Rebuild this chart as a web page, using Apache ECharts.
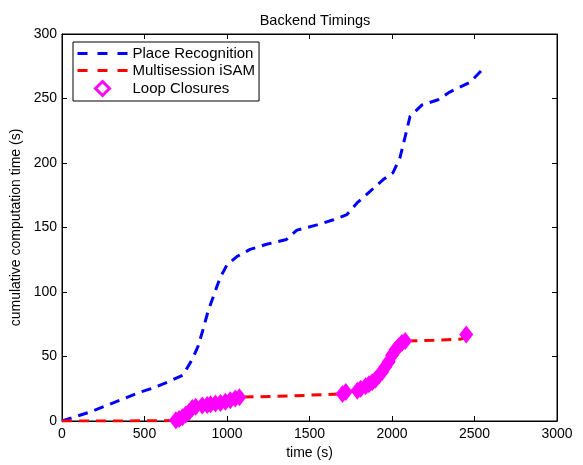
<!DOCTYPE html>
<html>
<head>
<meta charset="utf-8">
<script src="https://cdn.jsdelivr.net/npm/echarts@6/dist/echarts.min.js"></script>
<style>
  html, body { margin: 0; padding: 0; background: #fff; }
  #myChart { width: 583px; height: 465px; }
</style>
</head>
<body>
<div id="myChart"></div>
<script>
// place recognition (blue)
var placeTime = [0, 170, 290, 473, 550, 655, 733, 790, 825, 855, 885, 927, 958, 1000, 1060, 1140, 1240, 1360, 1424, 1545, 1645, 1727, 1788, 1867, 1945, 2006, 2048, 2079, 2109, 2182, 2279, 2350, 2473, 2552];
var placeValue = [0, 7, 13, 22.4, 25.5, 31, 35.5, 48, 58, 71, 85, 100, 111, 121, 127.5, 133, 137, 140.7, 148, 152, 156, 160, 169, 178, 187, 192.5, 204, 220, 236, 245, 249, 255, 262.6, 273];

// multisession iSAM (red)
var isamTime = [0, 300, 680, 690, 730, 770, 810, 880, 960, 1020, 1075, 1400, 1700, 1720, 1790, 1840, 1880, 1920, 1960, 2000, 2040, 2080, 2250, 2420, 2450];
var isamValue = [0, 0, 0.3, 0.5, 3, 7, 11, 12.5, 14, 16, 18.5, 19.5, 21, 22.5, 23.5, 27, 30, 35, 42, 51, 58, 62, 62.5, 63.5, 67];

// loop closures (magenta)
var loopTime = [690, 710, 730, 750, 770, 790, 810, 850, 880, 900, 930, 960, 990, 1020, 1050, 1075, 1700, 1720, 1790, 1810, 1840, 1860, 1880, 1900, 1920, 1940, 1960, 1980, 2000, 2020, 2040, 2060, 2080, 2450];
var loopValue = [0.5, 1.5, 3, 5, 7, 10, 11, 12, 12.5, 13, 13.5, 14, 15, 16, 17.5, 18.5, 21, 22.5, 23.5, 25, 27, 28.5, 30, 32, 35, 38, 42, 46, 51, 55, 58, 60.5, 62, 67];

var xTicks = [0, 3000, 500];
var yTicks = [0, 300, 50];

function pairs(xs, ys) {
  return xs.map(function (x, i) { return [x, ys[i]]; });
}

var font = 'Liberation Sans, Arial, sans-serif';
var tick = { inside: true, length: 5, lineStyle: { color: '#000' } };
var line = { show: true, onZero: false, lineStyle: { color: '#000', width: 1 } };
var plain = function (v) { return String(v); };

var myChart = echarts.init(document.getElementById('myChart'));
myChart.setOption({
  animation: false,
  backgroundColor: '#fff',
  textStyle: { fontFamily: font },
  title: {
    text: 'Backend Timings',
    left: 310, top: 8, textAlign: 'center',
    textStyle: { fontSize: 14.5, fontWeight: 'normal', color: '#000', fontFamily: font }
  },
  grid: { left: 62, right: 26, top: 34, bottom: 43, show: true, borderColor: '#000', borderWidth: 1, backgroundColor: 'transparent' },
  legend: {
    orient: 'vertical',
    left: 73, top: 42,
    backgroundColor: '#fff',
    borderColor: '#000', borderWidth: 1,
    borderRadius: 0,
    padding: [4, 4, 4, 3],
    itemGap: 2,
    itemWidth: 50, itemHeight: 14,
    textStyle: { fontSize: 15, color: '#000', fontFamily: font },
    data: [
      { name: 'Place Recognition', itemStyle: { opacity: 0 }, lineStyle: { width: 3, type: [10, 10] } },
      { name: 'Multisession iSAM', itemStyle: { opacity: 0 }, lineStyle: { width: 3, type: [10, 10] } },
      { name: 'Loop Closures', icon: 'path://M0,-1L1,0L0,1L-1,0Z', itemStyle: { color: '#fff', borderColor: '#ff00ff', borderWidth: 3 } }
    ]
  },
  xAxis: [{
    type: 'value', min: xTicks[0], max: xTicks[1], interval: xTicks[2],
    name: 'time (s)', nameLocation: 'middle', nameGap: 25,
    nameTextStyle: { fontSize: 14, color: '#000' },
    axisLine: line, axisTick: tick,
    axisLabel: { fontSize: 14, color: '#000', margin: 6, formatter: plain },
    splitLine: { show: false }
  }, {
    type: 'value', position: 'top', min: xTicks[0], max: xTicks[1], interval: xTicks[2],
    axisLine: line, axisTick: tick,
    axisLabel: { show: false },
    splitLine: { show: false }
  }],
  yAxis: [{
    type: 'value', min: yTicks[0], max: yTicks[1], interval: yTicks[2],
    name: 'cumulative computation time (s)', nameLocation: 'middle', nameGap: 37,
    nameTextStyle: { fontSize: 14, color: '#000' },
    axisLine: line, axisTick: tick,
    axisLabel: { fontSize: 14, color: '#000', margin: 5, formatter: plain },
    splitLine: { show: false }
  }, {
    type: 'value', position: 'right', min: yTicks[0], max: yTicks[1], interval: yTicks[2],
    axisLine: line, axisTick: tick,
    axisLabel: { show: false },
    splitLine: { show: false }
  }],
  series: [
    {
      name: 'Place Recognition',
      type: 'line',
      data: pairs(placeTime, placeValue),
      symbol: 'none',
      itemStyle: { color: '#0000ff' },
      lineStyle: { color: '#0000ff', width: 3, type: [10, 7] },
      z: 2
    },
    {
      name: 'Multisession iSAM',
      type: 'line',
      data: pairs(isamTime, isamValue),
      symbol: 'none',
      itemStyle: { color: '#ff0000' },
      lineStyle: { color: '#ff0000', width: 3, type: [10, 7] },
      z: 2
    },
    {
      name: 'Loop Closures',
      type: 'scatter',
      data: pairs(loopTime, loopValue),
      symbol: 'diamond',
      symbolSize: [14, 18],
      itemStyle: { color: '#ff00ff', opacity: 1 },
      z: 3
    }
  ]
});
</script>
</body>
</html>
